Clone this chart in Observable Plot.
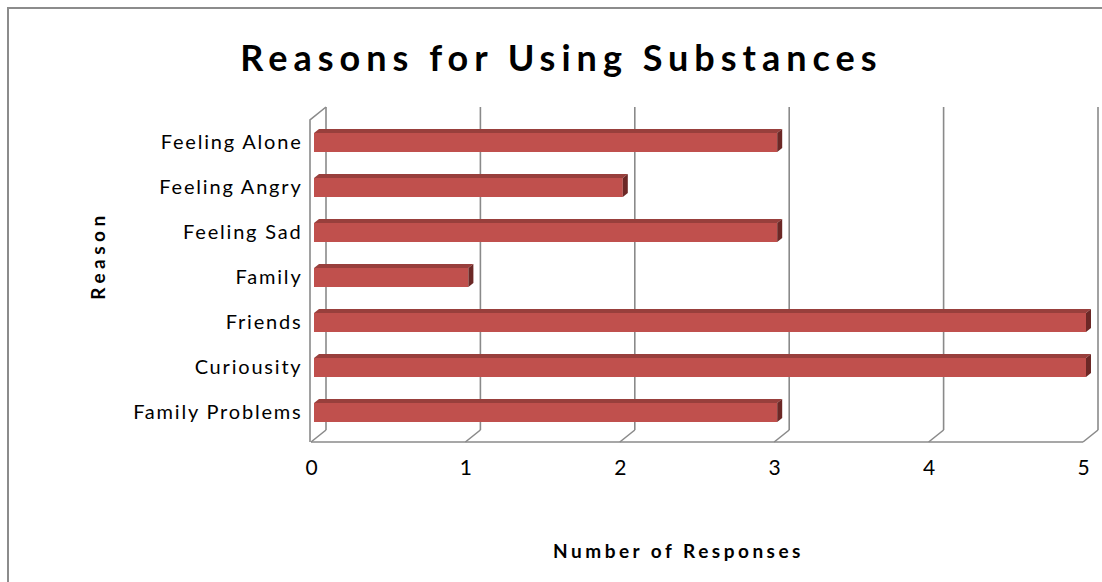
<!DOCTYPE html>
<html>
<head>
<meta charset="utf-8">
<script src="https://cdn.jsdelivr.net/npm/d3@7"></script>
<script src="https://cdn.jsdelivr.net/npm/@observablehq/plot@0.6"></script>
<style>
  html, body { margin: 0; padding: 0; background: #fff; overflow: hidden; }
  #frame { position: absolute; left: 7px; top: 7px; width: 1200px; height: 700px; border: 2px solid #8c8c8c; }
  #chart { position: absolute; left: 0; top: 0; }
  #chart svg { font-family: Lato, "Open Sans", sans-serif; background: transparent; }
  #chart [aria-label^="y-axis"] text { font-size: 20px; letter-spacing: 1.8px; fill: #000; }
  #chart [aria-label^="x-axis"] text { font-size: 21px; fill: #000; }
</style>
</head>
<body>
<div id="frame"></div>
<div id="chart"></div>
<script>
// ---- data ----
const categories = ["Feeling Alone", "Feeling Angry", "Feeling Sad", "Family", "Friends", "Curiousity", "Family Problems"];
const responses = [3, 2, 3, 1, 5, 5, 3];
const xTicks = [0, 1, 2, 3, 4, 5];
const titleText = "Reasons for Using Substances";
const xTitle = "Number of Responses";
const yTitle = "Reason";

const rows = categories.map((c, i) => ({reason: c, value: responses[i]}));

const FRONT = "#c0504d", TOP = "#983f3c", SIDE = "#6c2826", GRID = "#8a8a8a";
const DEPTH_X = 15, DEPTH_Y = 12;

// 3D walls (back wall gridlines, floor, left wall) drawn through the x scale
function walls(index, scales, values, dims) {
  const x = scales.x;
  const F = dims.height - dims.marginBottom - 9;  // front floor line
  const B = F - DEPTH_Y;                          // back floor line
  const T = dims.marginTop + 4;                    // back wall top
  const g = d3.create("svg:g").attr("fill", "none").attr("stroke", GRID).attr("stroke-width", 1.6);
  for (const v of xTicks) {
    const xf = x(v), xb = x(v) + DEPTH_X;
    g.append("line").attr("x1", xb).attr("x2", xb).attr("y1", T).attr("y2", B);
    g.append("line").attr("x1", xf).attr("x2", xb).attr("y1", F).attr("y2", B);
  }
  const x0 = x(xTicks[0]), x5 = x(xTicks[xTicks.length - 1]);
  g.append("line").attr("x1", x0).attr("x2", x5).attr("y1", F).attr("y2", F);
  g.append("path").attr("d", `M${x0 - 1},${F}V${T + DEPTH_Y + 1}L${x0 + DEPTH_X},${T}`);
  return g.node();
}

// top and side faces of the 3D bars, through the x and y scales
function barFaces(index, scales) {
  const x = scales.x, y = scales.y, bw = y.bandwidth();
  const dx = 5, dy = 4, off = 3;
  const g = d3.create("svg:g");
  rows.forEach(r => {
    const xa = x(0) + off, xb = x(r.value) + off, yt = y(r.reason), yb = yt + bw;
    g.append("path").attr("fill", TOP)
      .attr("d", `M${xa},${yt}L${xb},${yt}L${xb + dx},${yt - dy}L${xa + dx},${yt - dy}Z`);
    g.append("path").attr("fill", SIDE)
      .attr("d", `M${xb},${yt}L${xb + dx},${yt - dy}L${xb + dx},${yb - dy}L${xb},${yb}Z`);
  });
  return g.node();
}

const chart = Plot.plot({
  width: 1102,
  height: 582,
  marginLeft: 311,
  marginRight: 19,
  marginTop: 103,
  marginBottom: 131,
  x: {domain: [0, 5], ticks: xTicks, tickFormat: d => String(d), tickSize: 0, tickPadding: 9, label: null},
  y: {domain: categories, padding: 0.58, tickSize: 0, tickPadding: 9, label: null},
  marks: [
    walls,
    Plot.barX(rows, {x1: 0, x2: "value", y: "reason", fill: FRONT, dx: 3}),
    barFaces,
    Plot.text([titleText], {frameAnchor: "top", textAnchor: "middle", dx: -136, dy: -58, fontSize: 36, fontWeight: "bold", fill: "#000"}),
    Plot.text([xTitle], {frameAnchor: "bottom", textAnchor: "middle", dy: 106, dx: -19, fontSize: 19, fontWeight: "bold", fill: "#000"}),
    Plot.text([yTitle], {frameAnchor: "left", textAnchor: "middle", dx: -213, dy: -22, rotate: -90, fontSize: 19, fontWeight: "bold", fill: "#000"})
  ]
});
const spacing = {[titleText]: "6px", [xTitle]: "3.5px", [yTitle]: "4.5px"};
d3.select(chart).selectAll("text").each(function () {
  const s = spacing[this.textContent];
  if (s) this.style.letterSpacing = s;
});
document.getElementById("chart").appendChild(chart);
</script>
</body>
</html>
